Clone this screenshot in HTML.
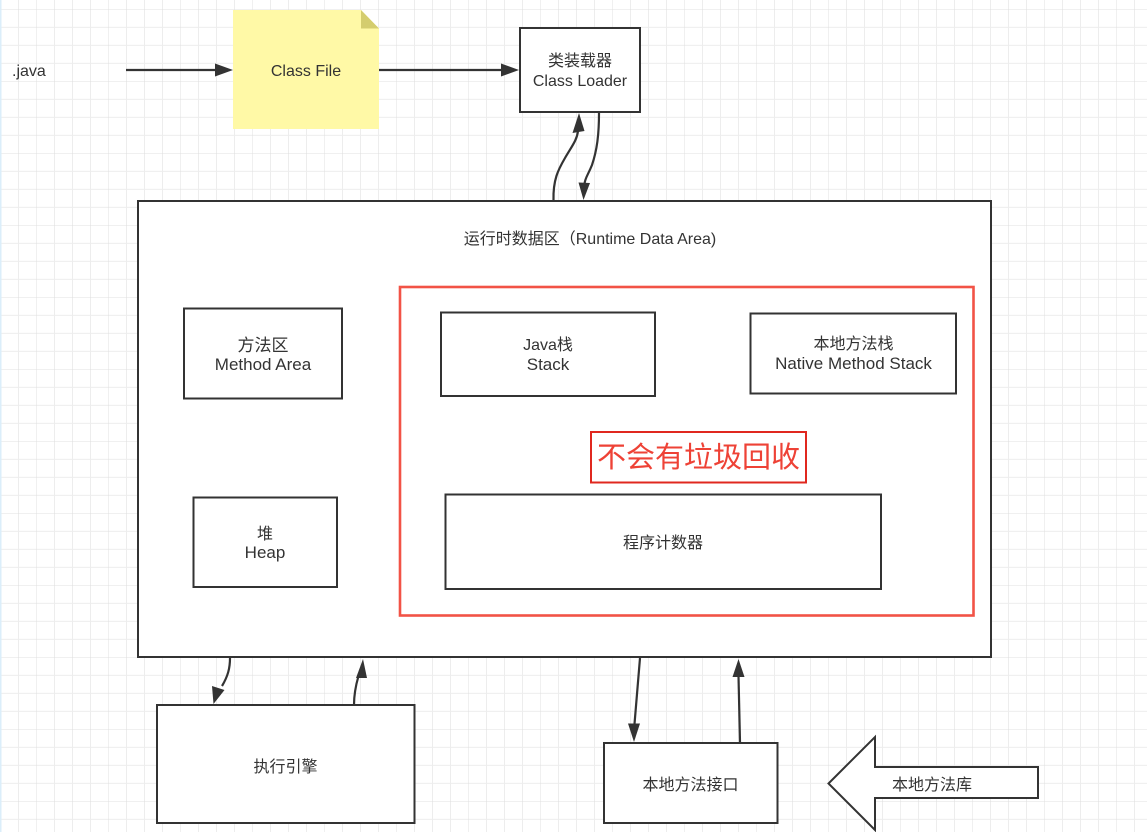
<!DOCTYPE html>
<html><head><meta charset="utf-8"><style>
html,body{margin:0;padding:0;background:#fff;}
svg{display:block;}
text{font-family:"Liberation Sans","Noto Sans CJK SC",sans-serif;fill:#333;font-size:16px;}
</style></head><body>
<svg width="1147" height="832" viewBox="0 0 1147 832" xmlns="http://www.w3.org/2000/svg">
<defs>
<pattern id="g" patternUnits="userSpaceOnUse" x="36.5" y="9.3" width="72" height="72">
<path d="M18 0V72M36 0V72M54 0V72M0 18H72M0 36H72M0 54H72" stroke="#ededed" stroke-width="1" fill="none"/>
<path d="M0 0V72M0 0H72" stroke="#e0e0e0" stroke-width="1" fill="none"/>
</pattern>
</defs>
<rect width="1147" height="832" fill="#fff"/>
<rect width="1147" height="832" fill="url(#g)"/>
<rect x="0" y="0" width="1.5" height="832" fill="#dbeefa"/>

<!-- .java -->
<text x="12" y="76">.java</text>
<line x1="126" y1="70" x2="216" y2="70" stroke="#333" stroke-width="2.2"/>
<polygon points="233,70 215,63.5 215,76.5" fill="#333"/>

<!-- Class File note -->
<polygon points="233,10 361,10 379,28.5 379,129 233,129" fill="#fff9a6"/>
<polygon points="361,10 361,28.5 379,28.5" fill="#d4cd6e"/>
<text x="306" y="76" text-anchor="middle">Class File</text>
<line x1="379" y1="70" x2="502" y2="70" stroke="#333" stroke-width="2.2"/>
<polygon points="519,70 501,63.5 501,76.5" fill="#333"/>

<!-- Class Loader -->
<rect x="520" y="28" width="120" height="84" fill="#fff" stroke="#333" stroke-width="2"/>
<text x="580" y="66" text-anchor="middle">类装载器</text>
<text x="580" y="86" text-anchor="middle">Class Loader</text>

<!-- loader arrows -->
<path d="M553.5,200 C553,180 558,170 565,158 C572,146 577,140 578,131" fill="none" stroke="#333" stroke-width="2.2"/>
<polygon points="579,113 572.5,133 584.5,131" fill="#333"/>
<path d="M599,113 C599,135 597,150 592,165 C588,175 585,178 584.5,184" fill="none" stroke="#333" stroke-width="2.2"/>
<polygon points="583.5,200 578.5,182.5 590,183" fill="#333"/>

<!-- Runtime Data Area -->
<rect x="138" y="201" width="853" height="456" fill="#fff" stroke="#333" stroke-width="2"/>
<text x="590" y="244" text-anchor="middle">运行时数据区（Runtime Data Area)</text>

<rect x="184" y="308.5" width="158" height="90" fill="#fff" stroke="#333" stroke-width="2"/>
<text x="263" y="351" text-anchor="middle" style="font-size:17px">方法区</text>
<text x="263" y="370" text-anchor="middle" style="font-size:17px">Method Area</text>

<rect x="193.5" y="497.5" width="143.5" height="89.5" fill="#fff" stroke="#333" stroke-width="2"/>
<text x="265" y="539" text-anchor="middle">堆</text>
<text x="265" y="558" text-anchor="middle" style="font-size:17px">Heap</text>

<!-- red region -->
<rect x="400" y="287" width="573.5" height="328.5" fill="none" stroke="#f25346" stroke-width="2.6"/>

<rect x="441" y="312.5" width="214" height="83.5" fill="#fff" stroke="#333" stroke-width="2"/>
<text x="548" y="350" text-anchor="middle">Java栈</text>
<text x="548" y="370" text-anchor="middle" style="font-size:17px">Stack</text>

<rect x="750.5" y="313.5" width="205.5" height="80" fill="#fff" stroke="#333" stroke-width="2"/>
<text x="853.5" y="349" text-anchor="middle">本地方法栈</text>
<text x="853.5" y="369" text-anchor="middle" style="font-size:17px">Native Method Stack</text>

<rect x="591" y="432" width="215" height="50.5" fill="#fff" stroke="#e0281f" stroke-width="2"/>
<text x="698.5" y="467" text-anchor="middle" style="font-size:29px;fill:#ee4236;">不会有垃圾回收</text>

<rect x="445.5" y="494.5" width="435.5" height="94.5" fill="#fff" stroke="#333" stroke-width="2"/>
<text x="663" y="548" text-anchor="middle">程序计数器</text>

<!-- execution engine -->
<rect x="157" y="705" width="257.5" height="118" fill="#fff" stroke="#333" stroke-width="2"/>
<text x="285.5" y="772" text-anchor="middle">执行引擎</text>
<path d="M230,658 C230,668 228,676 222,686" fill="none" stroke="#333" stroke-width="2.2"/>
<polygon points="213.5,704 212,686 224.5,690" fill="#333"/>
<path d="M354,705 C354,697 355,688 358.5,676" fill="none" stroke="#333" stroke-width="2.2"/>
<polygon points="363,659 356,678 367,678" fill="#333"/>

<!-- native interface -->
<rect x="604" y="743" width="173.5" height="80" fill="#fff" stroke="#333" stroke-width="2"/>
<text x="690.5" y="790" text-anchor="middle">本地方法接口</text>
<path d="M640,658 L634.5,724" fill="none" stroke="#333" stroke-width="2.2"/>
<polygon points="634,742 628,723.5 640,723.5" fill="#333"/>
<path d="M740,742 L738.5,676" fill="none" stroke="#333" stroke-width="2.2"/>
<polygon points="738.5,659 732.5,677 744.5,677" fill="#333"/>

<!-- native library arrow -->
<polygon points="828.5,783.5 875,737 875,767 1038,767 1038,798 875,798 875,830" fill="#fff" stroke="#333" stroke-width="2"/>
<text x="932" y="790" text-anchor="middle">本地方法库</text>
</svg>
</body></html>
